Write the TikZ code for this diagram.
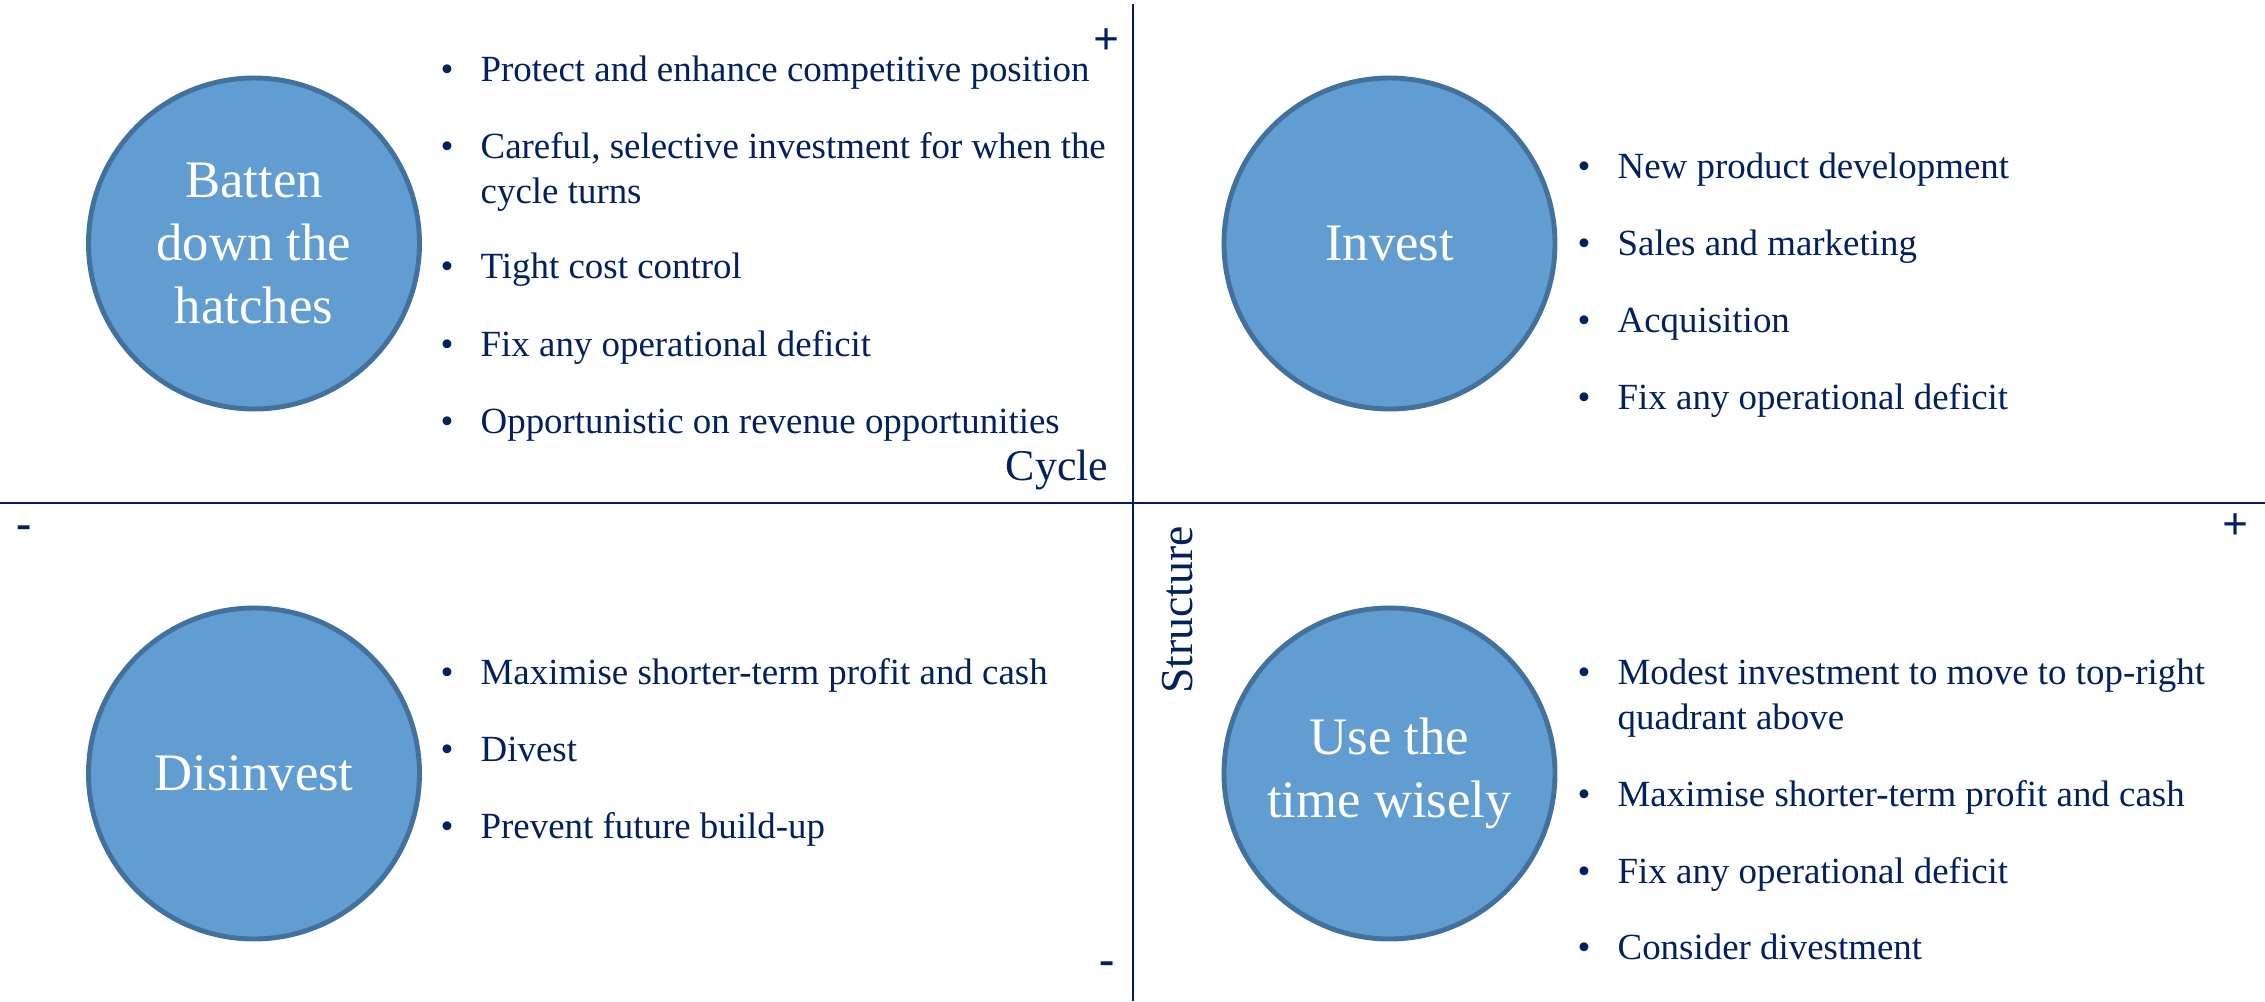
\documentclass[tikz,border=0pt]{standalone}
\usepackage{fontspec}
\setmainfont{Liberation Serif}
\usepackage{tikz}
\usepackage{xcolor}
\definecolor{navy}{RGB}{0,32,96}
\definecolor{steelblue}{RGB}{98,157,209}
\definecolor{slateblue}{RGB}{65,113,156}
\newcommand{\bitem}[1]{\makebox[0.40cm][l]{\textbullet}#1}
\newcommand{\bgap}{\hspace*{0.40cm}}
\tikzset{%
    quadrant/.style={%
        circle, draw=slateblue, line width=1.4pt, fill=steelblue,
        minimum size=3.31cm, inner sep=0pt, align=center, text=white,
        font=\fontsize{15}{18}\selectfont
    },
    point/.style={%
        anchor=base west, align=left, text=navy, inner sep=0pt,
        font=\fontsize{10.5}{12.8}\selectfont
    },
    axislabel/.style={text=navy, inner sep=0pt, font=\fontsize{12.5}{15}\selectfont},
    sign/.style={text=navy, inner sep=0pt, font=\fontsize{13}{15}\selectfont\bfseries}
}

\begin{document}
\begin{tikzpicture}
    \useasboundingbox (0,0) rectangle (22.65,-10.01);
    \draw[navy, line width=0.6pt] (0,-5.027) -- (22.65,-5.027);
    \draw[navy, line width=0.6pt] (11.327,-0.04) -- (11.327,-10.01);
%-----------------------------------------------
    \node[quadrant] (batten) at (2.54,-2.435) {Batten\\down the\\hatches};
    \node[quadrant] (invest) at (13.895,-2.435) {Invest};
    \node[quadrant] (disinvest) at (2.54,-7.735) {Disinvest};
    \node[quadrant] (wisely) at (13.895,-7.735) {Use the\\time wisely};
%-----------------------------------------------
    \node[point] (batten1) at (4.40,-0.81) {\bitem{Protect and enhance competitive position}};
    \node[point] (batten2) at (4.40,-2.03) {\bitem{Careful, selective investment for when the}\\\bgap cycle turns};
    \node[point] (batten3) at (4.40,-2.78) {\bitem{Tight cost control}};
    \node[point] (batten4) at (4.40,-3.56) {\bitem{Fix any operational deficit}};
    \node[point] (batten5) at (4.40,-4.33) {\bitem{Opportunistic on revenue opportunities}};
%-----------------------------------------------
    \node[point] (invest1) at (15.77,-1.78) {\bitem{New product development}};
    \node[point] (invest2) at (15.77,-2.55) {\bitem{Sales and marketing}};
    \node[point] (invest3) at (15.77,-3.32) {\bitem{Acquisition}};
    \node[point] (invest4) at (15.77,-4.09) {\bitem{Fix any operational deficit}};
%-----------------------------------------------
    \node[point] (disinvest1) at (4.40,-6.84) {\bitem{Maximise shorter-term profit and cash}};
    \node[point] (disinvest2) at (4.40,-7.61) {\bitem{Divest}};
    \node[point] (disinvest3) at (4.40,-8.38) {\bitem{Prevent future build-up}};
%-----------------------------------------------
    \node[point] (wisely1) at (15.77,-7.29) {\bitem{Modest investment to move to top-right}\\\bgap quadrant above};
    \node[point] (wisely2) at (15.77,-8.06) {\bitem{Maximise shorter-term profit and cash}};
    \node[point] (wisely3) at (15.77,-8.83) {\bitem{Fix any operational deficit}};
    \node[point] (wisely4) at (15.77,-9.59) {\bitem{Consider divestment}};
%-----------------------------------------------
    \node[axislabel, anchor=base east] (cycle) at (11.09,-4.80) {Cycle};
    \node[axislabel, font=\fontsize{13}{15}\selectfont, rotate=90, anchor=base] (structure) at (11.92,-6.10) {Structure};
    \node[sign] (cycleplus) at (11.07,-0.42) {+};
    \node[sign] (cycleminus) at (11.07,-9.68) {-};
    \node[sign] (structplus) at (22.35,-5.27) {+};
    \node[sign] (structminus) at (0.24,-5.32) {-};
\end{tikzpicture}
\end{document}
